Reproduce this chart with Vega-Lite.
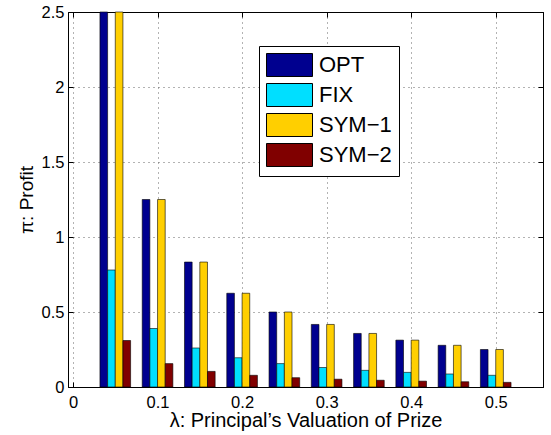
{
  "$schema": "https://vega.github.io/schema/vega-lite/v6.json",
  "width": 475,
  "height": 375,
  "autosize": {"type": "none"},
  "padding": {"left": 68, "top": 12, "right": 8, "bottom": 48},
  "background": "white",
  "data": {
    "values": [
      {"lambda": 0.05, "series": "OPT", "profit": 2.5},
      {"lambda": 0.1, "series": "OPT", "profit": 1.25},
      {"lambda": 0.15, "series": "OPT", "profit": 0.833},
      {"lambda": 0.2, "series": "OPT", "profit": 0.625},
      {"lambda": 0.25, "series": "OPT", "profit": 0.5},
      {"lambda": 0.3, "series": "OPT", "profit": 0.417},
      {"lambda": 0.35, "series": "OPT", "profit": 0.357},
      {"lambda": 0.4, "series": "OPT", "profit": 0.3125},
      {"lambda": 0.45, "series": "OPT", "profit": 0.278},
      {"lambda": 0.5, "series": "OPT", "profit": 0.25},
      {"lambda": 0.05, "series": "FIX", "profit": 0.78},
      {"lambda": 0.1, "series": "FIX", "profit": 0.39},
      {"lambda": 0.15, "series": "FIX", "profit": 0.26},
      {"lambda": 0.2, "series": "FIX", "profit": 0.195},
      {"lambda": 0.25, "series": "FIX", "profit": 0.156},
      {"lambda": 0.3, "series": "FIX", "profit": 0.13},
      {"lambda": 0.35, "series": "FIX", "profit": 0.111},
      {"lambda": 0.4, "series": "FIX", "profit": 0.0975},
      {"lambda": 0.45, "series": "FIX", "profit": 0.0867},
      {"lambda": 0.5, "series": "FIX", "profit": 0.078},
      {"lambda": 0.05, "series": "SYM−1", "profit": 2.5},
      {"lambda": 0.1, "series": "SYM−1", "profit": 1.25},
      {"lambda": 0.15, "series": "SYM−1", "profit": 0.833},
      {"lambda": 0.2, "series": "SYM−1", "profit": 0.625},
      {"lambda": 0.25, "series": "SYM−1", "profit": 0.5},
      {"lambda": 0.3, "series": "SYM−1", "profit": 0.417},
      {"lambda": 0.35, "series": "SYM−1", "profit": 0.357},
      {"lambda": 0.4, "series": "SYM−1", "profit": 0.3125},
      {"lambda": 0.45, "series": "SYM−1", "profit": 0.278},
      {"lambda": 0.5, "series": "SYM−1", "profit": 0.25},
      {"lambda": 0.05, "series": "SYM−2", "profit": 0.31},
      {"lambda": 0.1, "series": "SYM−2", "profit": 0.156},
      {"lambda": 0.15, "series": "SYM−2", "profit": 0.104},
      {"lambda": 0.2, "series": "SYM−2", "profit": 0.078},
      {"lambda": 0.25, "series": "SYM−2", "profit": 0.062},
      {"lambda": 0.3, "series": "SYM−2", "profit": 0.052},
      {"lambda": 0.35, "series": "SYM−2", "profit": 0.045},
      {"lambda": 0.4, "series": "SYM−2", "profit": 0.039},
      {"lambda": 0.45, "series": "SYM−2", "profit": 0.035},
      {"lambda": 0.5, "series": "SYM−2", "profit": 0.031}
    ]
  },
  "layer": [
    {
      "transform": [{"filter": "datum.series === 'OPT'"}],
      "mark": {"type": "bar", "width": 7.65, "xOffset": -11.5, "stroke": "black", "strokeWidth": 0.6},
      "encoding": {
        "x": {"field": "lambda", "type": "quantitative", "scale": {"domain": [0, 0.55], "nice": false},
          "axis": {"values": [0, 0.1, 0.2, 0.3, 0.4, 0.5], "format": "~g", "title": "λ: Principal’s Valuation of Prize",
            "grid": true, "tickSize": -5, "labelPadding": 12, "titlePadding": 0, "titleFontSize": 20}},
        "y": {"field": "profit", "type": "quantitative", "stack": null, "scale": {"domain": [0, 2.5], "nice": false},
          "axis": {"values": [0, 0.5, 1, 1.5, 2, 2.5], "format": "~g", "title": "π: Profit",
            "grid": true, "tickSize": -5, "labelPadding": 9, "titlePadding": 5, "titleFontSize": 19}},
        "color": {"field": "series", "type": "nominal",
          "scale": {"domain": ["OPT", "FIX", "SYM−1", "SYM−2"], "range": ["#00008F", "#00DFFF", "#FFCF00", "#800000"]},
          "legend": {"title": null, "orient": "none", "legendX": 191, "legendY": 34}}
      }
    },
    {
      "transform": [{"filter": "datum.series === 'FIX'"}],
      "mark": {"type": "bar", "width": 7.65, "xOffset": -3.83, "stroke": "black", "strokeWidth": 0.6},
      "encoding": {
        "x": {"field": "lambda", "type": "quantitative", "axis": null},
        "y": {"field": "profit", "type": "quantitative", "stack": null, "axis": null},
        "color": {"field": "series", "type": "nominal",
          "scale": {"domain": ["OPT", "FIX", "SYM−1", "SYM−2"], "range": ["#00008F", "#00DFFF", "#FFCF00", "#800000"]},
          "legend": {"title": null, "orient": "none", "legendX": 191, "legendY": 34}}
      }
    },
    {
      "transform": [{"filter": "datum.series === 'SYM−1'"}],
      "mark": {"type": "bar", "width": 7.65, "xOffset": 3.83, "stroke": "black", "strokeWidth": 0.6},
      "encoding": {
        "x": {"field": "lambda", "type": "quantitative", "axis": null},
        "y": {"field": "profit", "type": "quantitative", "stack": null, "axis": null},
        "color": {"field": "series", "type": "nominal",
          "scale": {"domain": ["OPT", "FIX", "SYM−1", "SYM−2"], "range": ["#00008F", "#00DFFF", "#FFCF00", "#800000"]},
          "legend": {"title": null, "orient": "none", "legendX": 191, "legendY": 34}}
      }
    },
    {
      "transform": [{"filter": "datum.series === 'SYM−2'"}],
      "mark": {"type": "bar", "width": 7.65, "xOffset": 11.5, "stroke": "black", "strokeWidth": 0.6},
      "encoding": {
        "x": {"field": "lambda", "type": "quantitative", "axis": null},
        "y": {"field": "profit", "type": "quantitative", "stack": null, "axis": null},
        "color": {"field": "series", "type": "nominal",
          "scale": {"domain": ["OPT", "FIX", "SYM−1", "SYM−2"], "range": ["#00008F", "#00DFFF", "#FFCF00", "#800000"]},
          "legend": {"title": null, "orient": "none", "legendX": 191, "legendY": 34}}
      }
    },
    {
      "mark": {"type": "point", "opacity": 0},
      "encoding": {
        "x": {"field": "lambda", "type": "quantitative",
          "axis": {"orient": "top", "values": [0, 0.1, 0.2, 0.3, 0.4, 0.5], "labels": false, "title": null,
            "grid": false, "tickSize": -5, "domain": true}},
        "y": {"field": "profit", "type": "quantitative",
          "axis": {"orient": "right", "values": [0, 0.5, 1, 1.5, 2, 2.5], "labels": false, "title": null,
            "grid": false, "tickSize": -5, "domain": true}}
      }
    }
  ],
  "resolve": {"axis": {"x": "independent", "y": "independent"}},
  "config": {
    "font": "Liberation Sans",
    "view": {"stroke": "black", "strokeWidth": 1},
    "axis": {
      "labelFont": "Liberation Sans",
      "titleFont": "Liberation Sans",
      "labelFontSize": 16.5,
      "titleFontSize": 19,
      "titleFontWeight": "normal",
      "labelColor": "black",
      "titleColor": "black",
      "domainColor": "black",
      "tickColor": "black",
      "gridColor": "#666666",
      "gridDash": [1, 4],
      "gridWidth": 1,
      "gridOpacity": 1
    },
    "legend": {
      "labelFont": "Liberation Sans",
      "symbolType": "M-1,-1H3V1H-1Z",
      "symbolSize": 529,
      "symbolStrokeColor": "black",
      "symbolStrokeWidth": 1,
      "symbolOpacity": 1,
      "labelFontSize": 22,
      "labelColor": "black",
      "labelOffset": 29,
      "strokeColor": "black",
      "fillColor": "white",
      "padding": 7,
      "rowPadding": 2
    }
  }
}
